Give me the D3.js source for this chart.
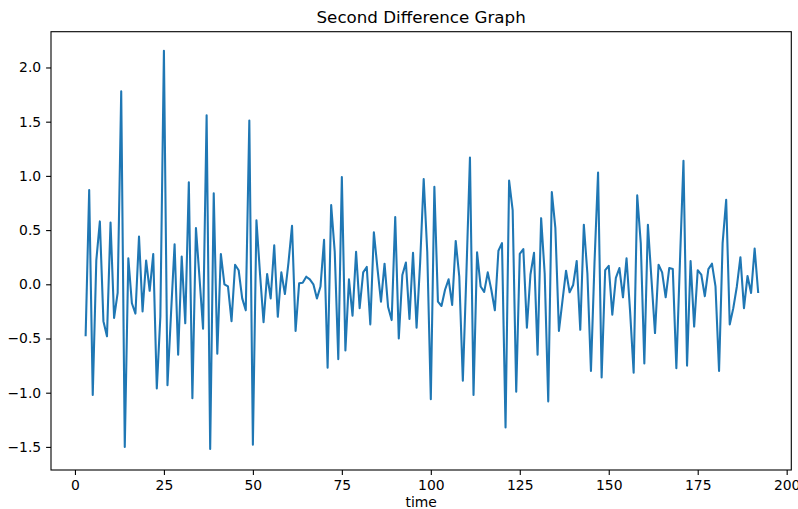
<!DOCTYPE html>
<html>
<head>
<meta charset="utf-8">
<script src="https://cdn.jsdelivr.net/npm/d3@7"></script>
<style>
  html, body { margin: 0; padding: 0; background: #fff; }
  svg { display: block; font-family: "DejaVu Sans", sans-serif; }
</style>
</head>
<body>
<svg id="chart" width="798" height="509"></svg>
<script>
// ---- data ----
const startTime = 3;
const secondDiff = [
  -0.48, 0.87, -1.02, 0.22, 0.58, -0.34, -0.48, 0.57, -0.31, -0.08,
  1.78, -1.50, 0.24, -0.175, -0.27, 0.44, -0.25, 0.22, -0.06, 0.28,
  -0.96, -0.30, 2.155, -0.93, -0.27, 0.37, -0.65, 0.255, -0.36, 0.94,
  -1.05, 0.52, 0.06, -0.41, 1.56, -1.52, 0.84, -0.64, 0.28, 0.0,
  -0.02, -0.34, 0.18, 0.13, -0.13, -0.24, 1.51, -1.48, 0.59, 0.10,
  -0.35, 0.095, -0.13, 0.36, -0.30, 0.11, -0.09, 0.20, 0.54, -0.43,
  0.01, 0.015, 0.07, 0.045, 0.0, -0.13, -0.02, 0.41, -0.77, 0.73,
  0.30, -0.69, 0.99, -0.61, 0.046, -0.29, 0.30, -0.22, 0.11, 0.16,
  -0.37, 0.48, 0.15, -0.16, 0.19, -0.21, -0.33, 0.62, -0.50, 0.086,
  0.20, -0.32, 0.29, -0.40, 0.20, 0.97, 0.30, -1.06, 0.90, -0.16,
  -0.20, -0.05, 0.046, -0.19, 0.40, 0.07, -0.89, 0.10, 1.17, -1.02,
  0.295, -0.02, -0.07, 0.11, -0.05, -0.24, 0.31, 0.38, -1.32, 0.956,
  0.685, -0.99, 0.28, 0.325, -0.40, 0.09, 0.29, -0.65, 0.61, 0.10,
  -1.08, 0.85, 0.52, -0.43, -0.15, 0.125, -0.074, -0.006, 0.215, -0.42,
  0.55, 0.10, -0.80, 0.20, 1.03, -0.86, 0.13, 0.17, -0.28, 0.06,
  0.15, -0.12, 0.24, -0.25, -0.815, 0.82, 0.38, -0.73, 0.55, 0.05,
  -0.45, 0.18, 0.11, -0.12, 0.15, 0.14, -0.775, 0.20, 1.14, -0.75,
  0.215, -0.39, 0.13, 0.09, -0.11, 0.14, 0.19, -0.02, -0.80, 0.38,
  0.78, -0.37, -0.22, -0.02, 0.25, -0.22, 0.077, -0.08, 0.33, -0.08
];
const xTicks = [0, 25, 50, 75, 100, 125, 150, 175, 200];
const yTicks = [-1.5, -1.0, -0.5, 0.0, 0.5, 1.0, 1.5, 2.0];
const xDomain = [-6.73, 201.3];
const yDomain = [-1.713, 2.330];
const titleText = "Second Difference Graph";
const xLabelText = "time";

// ---- layout ----
const svg = d3.select("#chart");
const mLeft = 51, mRight = 791.3, mTop = 31.7, mBottom = 470;
const pts = secondDiff.map((v, i) => ({ t: startTime + i, v }));

const x = d3.scaleLinear().domain(xDomain).range([mLeft, mRight]);
const y = d3.scaleLinear().domain(yDomain).range([mBottom, mTop]);

const tickFont = 13.9;
const fmtY = d3.format(".1f");

const gx = svg.append("g").attr("transform", `translate(0,${mBottom})`)
  .call(d3.axisBottom(x).tickValues(xTicks).tickFormat(d3.format("d"))
        .tickSize(4.9).tickPadding(4.9));
const gy = svg.append("g").attr("transform", `translate(${mLeft},0)`)
  .call(d3.axisLeft(y).tickValues(yTicks).tickFormat(fmtY)
        .tickSize(4.9).tickPadding(4.9));
[gx, gy].forEach(g => {
  g.select(".domain").remove();
  g.selectAll(".tick line").attr("stroke", "#000").attr("stroke-width", 1.1);
  g.selectAll(".tick text").attr("fill", "#000")
    .style("font-size", tickFont + "px").style("font-family", "DejaVu Sans, sans-serif");
});

// line
const line = d3.line().x(d => x(d.t)).y(d => y(d.v));
svg.append("path").datum(pts)
  .attr("d", line)
  .attr("fill", "none")
  .attr("stroke", "#1f77b4")
  .attr("stroke-width", 2.08)
  .attr("stroke-linejoin", "round")
  .attr("stroke-linecap", "butt");

// frame
svg.append("rect")
  .attr("x", mLeft).attr("y", mTop)
  .attr("width", mRight - mLeft).attr("height", mBottom - mTop)
  .attr("fill", "none").attr("stroke", "#000").attr("stroke-width", 1.1);

// title & label
svg.append("text")
  .attr("x", (mLeft + mRight) / 2).attr("y", mTop - 8.3)
  .attr("text-anchor", "middle")
  .style("font-size", "16.7px").attr("fill", "#000")
  .text(titleText);
svg.append("text")
  .attr("x", (mLeft + mRight) / 2).attr("y", 507)
  .attr("text-anchor", "middle")
  .style("font-size", tickFont + "px").attr("fill", "#000")
  .text(xLabelText);
</script>
</body>
</html>
